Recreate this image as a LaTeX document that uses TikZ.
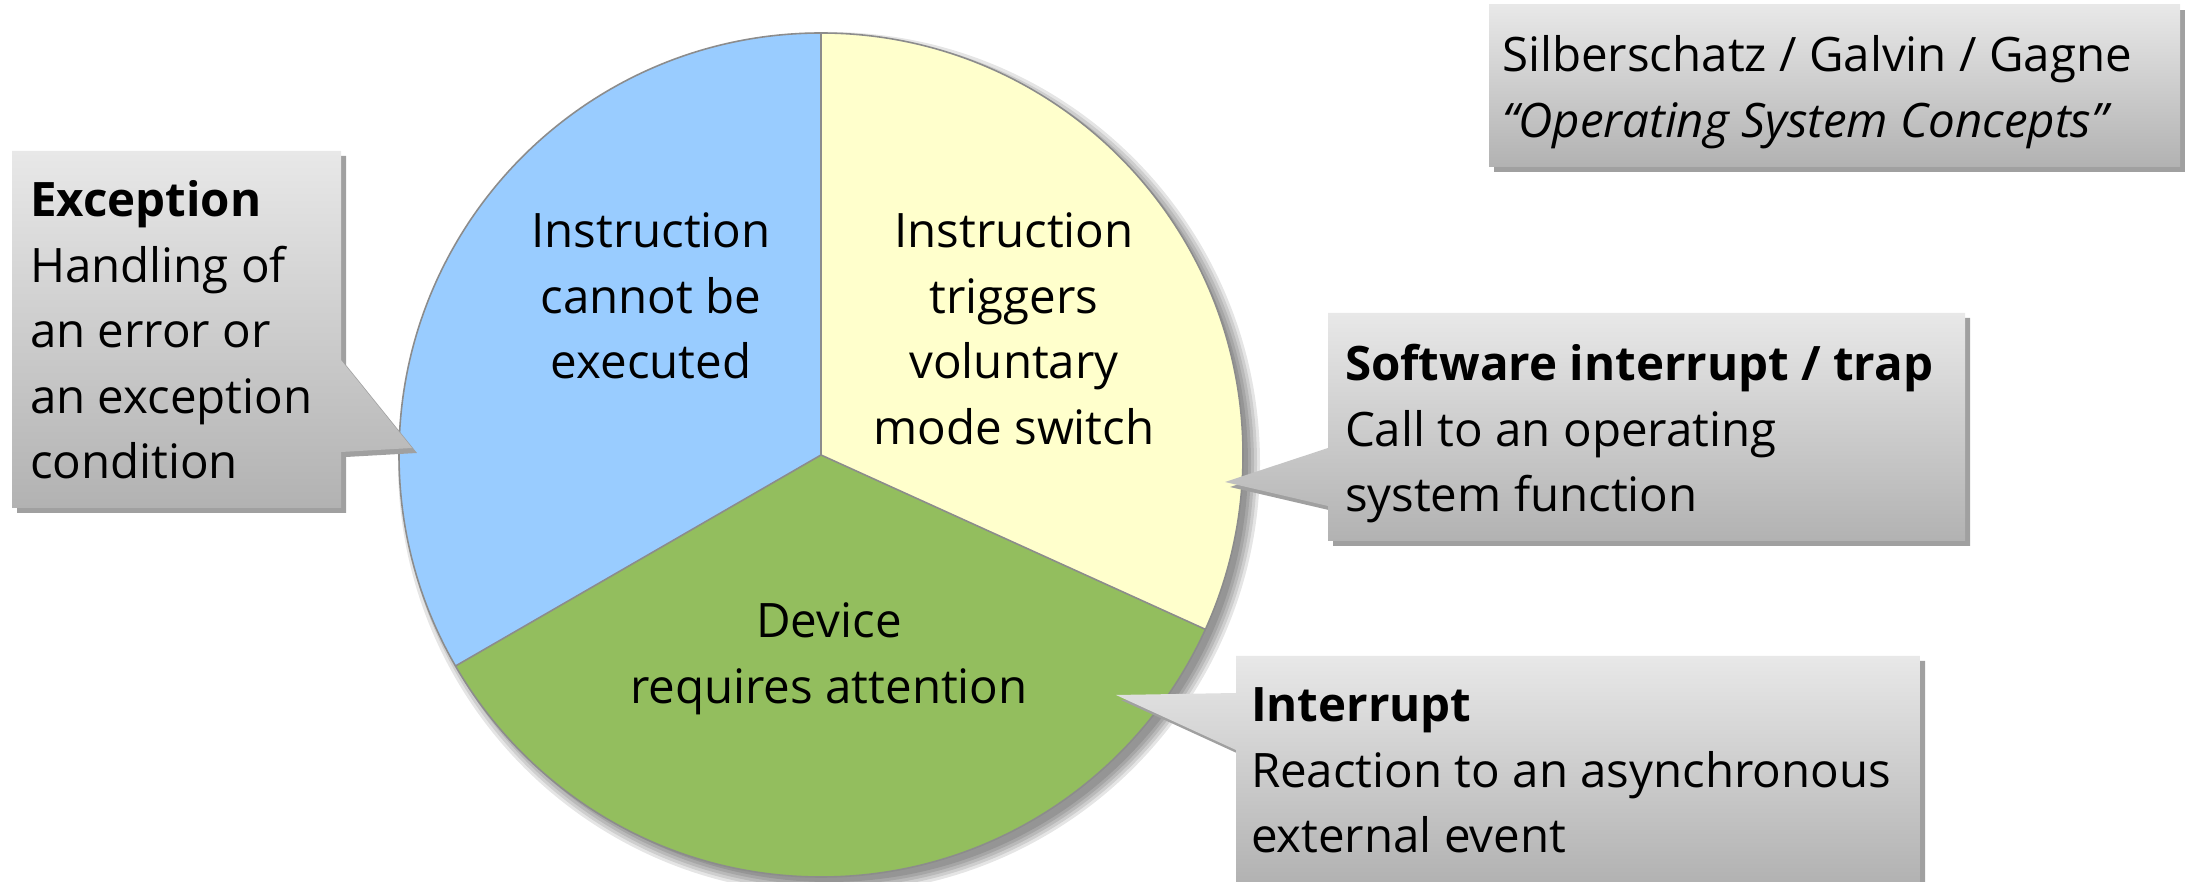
\documentclass[tikz,border=0pt]{standalone}
\usepackage{fontspec}
\setmainfont{Open Sans}
\definecolor{pieblue}{RGB}{153,204,255}
\definecolor{pieyellow}{RGB}{255,255,204}
\definecolor{piegreen}{RGB}{147,190,94}
\definecolor{edgegray}{RGB}{140,140,140}
\definecolor{calltop}{RGB}{232,232,232}
\definecolor{callbot}{RGB}{178,178,178}
\definecolor{shadowgray}{RGB}{160,160,160}
\newcommand\txtfont{\fontsize{13.5}{18.6}\selectfont}
\begin{document}
\begin{tikzpicture}[x=0.01cm,y=0.01cm,
  edgeline/.style={draw=edgegray, line width=0.45pt, line join=round},
  callout/.style={top color=calltop, bottom color=callbot, draw=none},
  callshadow/.style={fill=shadowgray, draw=none},
  txt/.style={inner sep=0pt, outer sep=0pt, font=\txtfont, text=black},
]
\useasboundingbox (0,0) rectangle (2185,882);
\clip (0,0) rectangle (2185,882);

% ---------- pie ----------
\coordinate (C) at (821,427);
\coordinate (Ctop) at ([shift={(90:422)}]C);
\coordinate (Cleft) at ([shift={(210:422)}]C);
\coordinate (Cright) at ([shift={(-24.4:422)}]C);
\coordinate (Cs) at ([shift={(8,-8)}]C);

% soft shadow of the pie
\foreach \r in {431,428,425,422,419}{
  \fill[black, opacity=0.1] (Cs) circle[radius=\r];
}

\fill[pieblue] (C) -- (Ctop) arc[start angle=90, end angle=210, radius=422] -- cycle;
\fill[pieyellow] (C) -- (Cright) arc[start angle=-24.4, end angle=90, radius=422] -- cycle;
\fill[piegreen] (C) -- (Cleft) arc[start angle=210, end angle=335.6, radius=422] -- cycle;
\draw[edgeline] (C) circle[radius=422];
\draw[edgeline] (C) -- (Ctop);
\draw[edgeline] (C) -- (Cleft);
\draw[edgeline] (C) -- (Cright);

% ---------- callout shapes ----------
% Exception
\fill[callshadow, shift={(5,-5)}] (12,731) -- (341,731) -- (341,522) -- (412,434) -- (341,430) -- (341,374) -- (12,374) -- cycle;
\shade[callout] (12,731) -- (341,731) -- (341,522) -- (412,434) -- (341,430) -- (341,374) -- (12,374) -- cycle;
% Software interrupt
\fill[callshadow, shift={(5,-5)}] (1328,569) -- (1965,569) -- (1965,341) -- (1328,341) -- (1328,376) -- (1225,400) -- (1328,434) -- cycle;
\shade[callout] (1328,569) -- (1965,569) -- (1965,341) -- (1328,341) -- (1328,376) -- (1225,400) -- (1328,434) -- cycle;
% Interrupt
\fill[callshadow, shift={(5,-5)}] (1236,226) -- (1920,226) -- (1920,-20) -- (1236,-20) -- (1236,132) -- (1116,187) -- (1236,189) -- cycle;
\shade[callout] (1236,226) -- (1920,226) -- (1920,0) -- (1236,0) -- (1236,132) -- (1116,187) -- (1236,189) -- cycle;
% Reference box
\fill[callshadow, shift={(5,-5)}] (1489,715) rectangle (2180,877);
\shade[callout] (1489,715) rectangle (2180,877);

% ---------- texts ----------
\node[txt, anchor=base west] (exc) at (30,665)
  {\begin{tabular}[t]{@{}l@{}}\textbf{Exception}\\Handling of\\an error or\\an exception\\condition\end{tabular}};
\node[txt, anchor=base west] (swi) at (1345,501)
  {\begin{tabular}[t]{@{}l@{}}\textbf{Software interrupt / trap}\\Call to an operating\\system function\end{tabular}};
\node[txt, anchor=base west] (irq) at (1251,160)
  {\begin{tabular}[t]{@{}l@{}}\textbf{Interrupt}\\Reaction to an asynchronous\\external event\end{tabular}};
\node[txt, anchor=base west] (ref) at (1502,810)
  {\begin{tabular}[t]{@{}l@{}}Silberschatz / Galvin / Gagne\\\textit{“Operating System Concepts”}\end{tabular}};

\node[txt, anchor=base] (blue) at (651,634)
  {\begin{tabular}[t]{@{}c@{}}Instruction\\cannot be\\executed\end{tabular}};
\node[txt, anchor=base] (yellow) at (1014,634)
  {\begin{tabular}[t]{@{}c@{}}Instruction\\triggers\\voluntary\\mode switch\end{tabular}};
\node[txt, anchor=base] (green) at (829,244)
  {\begin{tabular}[t]{@{}c@{}}Device\\requires attention\end{tabular}};
\end{tikzpicture}
\end{document}
